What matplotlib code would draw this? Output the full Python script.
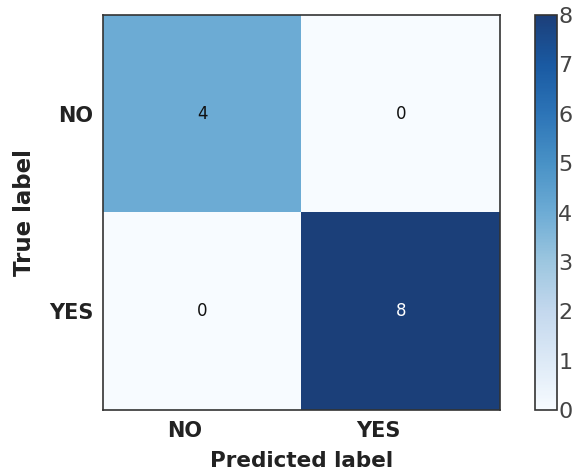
import matplotlib
matplotlib.use("Agg")
import matplotlib.pyplot as plt
from matplotlib.colors import ListedColormap
import numpy as np

classes = ["NO", "YES"]
cm_row_no = [4, 0]
cm_row_yes = [0, 8]
cm = np.array([cm_row_no, cm_row_yes])

# Blues, slightly softened toward the dark end
x = np.linspace(0, 1, 256)
base = plt.get_cmap("Blues")(x)
tint = np.array([0.52, 0.56, 0.78, 1.0])
w = (0.16 * x)[:, None]
soft_blues = ListedColormap(base * (1 - w) + tint * w)

fig = plt.figure(figsize=(5.79, 4.73), dpi=100)
W, H = 579, 473
ax = fig.add_axes([103 / W, 1 - 410 / H, 397 / W, 395 / H])
cax = fig.add_axes([535 / W, 1 - 410 / H, 22 / W, 395 / H])

im = ax.imshow(cm, interpolation="nearest", cmap=soft_blues, vmin=0, vmax=8, aspect="auto")
thresh = cm.max() / 2.0
for i in range(cm.shape[0]):
    for j in range(cm.shape[1]):
        ax.text(j, i, str(cm[i, j]), ha="center", va="center", fontsize=12,
                color="white" if cm[i, j] > thresh else "#111111")

ax.set_xticks(range(len(classes)))
ax.set_xticklabels(classes, fontsize=15, fontweight="bold", color="#222222", ha="right")
ax.set_yticks(range(len(classes)))
ax.set_yticklabels(classes, fontsize=15, fontweight="bold", color="#222222")
ax.tick_params(axis="y", length=0, pad=7)
ax.tick_params(axis="x", length=0, pad=8)
ax.set_xlabel("Predicted label", fontsize=15.5, fontweight="bold", color="#222222", labelpad=7)
ax.set_ylabel("True label", fontsize=16.5, fontweight="bold", color="#222222", labelpad=9)
for s in ax.spines.values():
    s.set_color("#333333")
    s.set_linewidth(1.2)

cb = fig.colorbar(im, cax=cax)
cb.set_ticks(range(0, 9))
cb.ax.tick_params(length=0, labelsize=16, labelcolor="#444444", pad=1)
cb.outline.set_edgecolor("#333333")
cb.outline.set_linewidth(1.2)

fig.savefig("out.png", dpi=100)
